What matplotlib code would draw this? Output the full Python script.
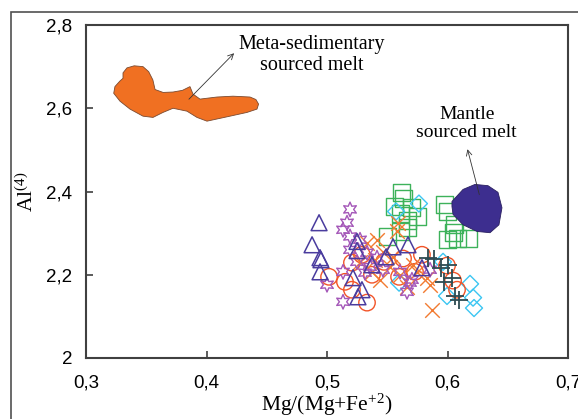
import matplotlib
matplotlib.use("Agg")
import matplotlib.pyplot as plt
from matplotlib.patches import Polygon, Rectangle

plt.rcParams['mathtext.fontset'] = 'custom'
plt.rcParams['mathtext.rm'] = 'Liberation Serif'
plt.rcParams['mathtext.it'] = 'Liberation Serif:italic'

# --- data ---
tri_x = [0.4934, 0.4876, 0.4942, 0.4950, 0.4942, 0.5249, 0.5249, 0.5373, 0.5216, 0.5290, 0.5257,
         0.5490, 0.5548, 0.5672, 0.5788]
tri_y = [2.325, 2.272, 2.241, 2.236, 2.207, 2.280, 2.258, 2.224, 2.193, 2.164, 2.147,
         2.243, 2.267, 2.272, 2.217]

star_x = [0.5191, 0.5166, 0.5133, 0.5191, 0.5274, 0.5332, 0.5249, 0.5133, 0.5000, 0.5133,
          0.5357, 0.5465, 0.5606, 0.5689, 0.5855, 0.5315, 0.5664, 0.5415, 0.5705, 0.5191]
star_y = [2.357, 2.325, 2.308, 2.292, 2.284, 2.253, 2.231, 2.207, 2.176, 2.135,
          2.219, 2.212, 2.207, 2.181, 2.212, 2.205, 2.159, 2.241, 2.188, 2.260]

circ_x = [0.5017, 0.5207, 0.5149, 0.5207, 0.5332, 0.5631, 0.5788, 0.5730, 0.5598, 0.5996,
          0.6046, 0.6079, 0.5290, 0.5473, 0.5373]
circ_y = [2.195, 2.229, 2.183, 2.164, 2.133, 2.239, 2.248, 2.207, 2.195, 2.222,
          2.186, 2.164, 2.248, 2.231, 2.200]

cross_x = [0.5581, 0.5589, 0.5415, 0.5332, 0.5465, 0.5398, 0.5523, 0.5373, 0.5606, 0.5440,
           0.5664, 0.5830, 0.5855, 0.5871, 0.5714, 0.5274, 0.5548, 0.5747]
cross_y = [2.304, 2.325, 2.284, 2.277, 2.255, 2.236, 2.219, 2.207, 2.200, 2.188,
           2.171, 2.193, 2.176, 2.116, 2.224, 2.231, 2.243, 2.207]

sq_x = [0.5622, 0.5631, 0.5564, 0.5606, 0.5664, 0.5755, 0.5506, 0.5672, 0.5606, 0.5979,
        0.5996, 0.6062, 0.6046, 0.5996, 0.6079, 0.6178, 0.5705]
sq_y = [2.398, 2.383, 2.364, 2.347, 2.330, 2.340, 2.292, 2.313, 2.304, 2.369,
        2.352, 2.320, 2.301, 2.284, 2.287, 2.287, 2.361]

dia_x = [0.5763, 0.5573, 0.5598, 0.5963, 0.5996, 0.6187, 0.6212, 0.6220]
dia_y = [2.371, 2.352, 2.181, 2.231, 2.149, 2.178, 2.145, 2.120]

plus_x = [0.5838, 0.5888, 0.5946, 0.5971, 0.6037, 0.6062, 0.6095, 0.6004]
plus_y = [2.241, 2.239, 2.217, 2.183, 2.193, 2.149, 2.140, 2.224]

# field outlines
meta_x = [0.3307, 0.3340, 0.3400, 0.3473, 0.3520, 0.3555, 0.3573, 0.3640, 0.3722, 0.3800,
          0.3863, 0.3888, 0.3946, 0.4087, 0.4220, 0.4361, 0.4410, 0.4432, 0.4419, 0.4336,
          0.4195, 0.4004, 0.3921, 0.3838, 0.3722, 0.3639, 0.3556, 0.3473, 0.3365, 0.3282,
          0.3230, 0.3240, 0.3280, 0.3307]
meta_y = [2.685, 2.697, 2.702, 2.700, 2.688, 2.668, 2.645, 2.638, 2.639, 2.643,
          2.652, 2.634, 2.622, 2.627, 2.629, 2.627, 2.621, 2.610, 2.598, 2.590,
          2.581, 2.569, 2.578, 2.593, 2.600, 2.590, 2.578, 2.581, 2.598, 2.617,
          2.636, 2.652, 2.665, 2.672]

mantle_x = [0.6037, 0.6129, 0.6228, 0.6336, 0.6419, 0.6452, 0.6427, 0.6353, 0.6245, 0.6129,
            0.6046, 0.6037]
mantle_y = [2.376, 2.405, 2.417, 2.414, 2.398, 2.361, 2.320, 2.301, 2.304, 2.320,
            2.345, 2.364]

fig = plt.figure(figsize=(5.78, 4.19), dpi=100)
ax = fig.add_axes([0.1488, 0.1456, 0.8339, 0.7947])

# outer frame of the original figure
fig.patches.append(Rectangle((11 / 578, -0.1), 1.2, 1 - 12 / 419 + 0.1, transform=fig.transFigure,
                             fill=False, edgecolor='#505050', linewidth=1.2))

ax.add_patch(Polygon(list(zip(meta_x, meta_y)), closed=True, facecolor='#F07022',
                     edgecolor='#7a4a30', linewidth=0.6, zorder=2))
ax.add_patch(Polygon(list(zip(mantle_x, mantle_y)), closed=True, facecolor='#3D2E8F',
                     edgecolor='#2a2060', linewidth=0.6, zorder=4))

lw = 1.0
ax.scatter(sq_x, sq_y, marker='s', s=150, facecolors='none', edgecolors='#3DB25A', linewidths=lw, zorder=3)
ax.scatter(dia_x, dia_y, marker='D', s=75, facecolors='none', edgecolors='#3CC6F2', linewidths=lw, zorder=3)
ax.scatter(circ_x, circ_y, marker='o', s=140, facecolors='none', edgecolors='#F25428', linewidths=lw, zorder=3)
ax.scatter(cross_x, cross_y, marker='x', s=110, color='#F27A30', linewidths=lw, zorder=3)
ax.scatter(star_x, star_y, marker=(6, 1, 0), s=110, facecolors='none', edgecolors='#A457B8', linewidths=lw, zorder=3)
ax.scatter(tri_x, tri_y, marker='^', s=130, facecolors='none', edgecolors='#4A3C9E', linewidths=lw * 1.1, zorder=3)
ax.scatter(plus_x, plus_y, marker='+', s=150, color='#2D4B52', linewidths=1.3, zorder=3)

# annotations
ax.annotate('', xy=(0.4245, 2.737), xytext=(0.3838, 2.617),
            arrowprops=dict(arrowstyle='->', color='#333333', lw=0.6), zorder=5)
ax.text(0.4876, 2.728, 'Meta-sedimentary\nsourced melt', ha='center', va='center',
        family='Liberation Serif', fontsize=14.5, linespacing=1.1)
ax.annotate('', xy=(0.616, 2.508), xytext=(0.627, 2.386),
            arrowprops=dict(arrowstyle='->', color='#333333', lw=0.6), zorder=5)
ax.text(0.616, 2.564, 'Mantle\nsourced melt', ha='center', va='center',
        family='Liberation Serif', fontsize=14, linespacing=1.1)

ax.set_xlim(0.3, 0.7)
ax.set_ylim(2.0, 2.8)
xt = [0.3, 0.4, 0.5, 0.6, 0.7]
yt = [2.0, 2.2, 2.4, 2.6, 2.8]
ax.set_xticks(xt)
ax.set_xticklabels(['0,3', '0,4', '0,5', '0,6', '0,7'], family='Liberation Sans', fontsize=13.5)
ax.set_yticks(yt)
ax.set_yticklabels(['2', '2,2', '2,4', '2,6', '2,8'], family='Liberation Sans', fontsize=13.5)
ax.tick_params(direction='in', length=5, width=1.2, color='#404040')
ax.tick_params(axis='x', pad=12)
ax.tick_params(axis='y', pad=10)
for s in ax.spines.values():
    s.set_color('#404040')
    s.set_linewidth(1.5)

ax.set_xlabel(r'Mg/(Mg+Fe$^{\mathrm{+2}}$)', family='Liberation Serif', fontsize=15.5, labelpad=0)
ax.set_ylabel(r'Al$^{\mathrm{(4)}}$', family='Liberation Serif', fontsize=15.5, labelpad=6)

fig.savefig('out.png', dpi=100)
